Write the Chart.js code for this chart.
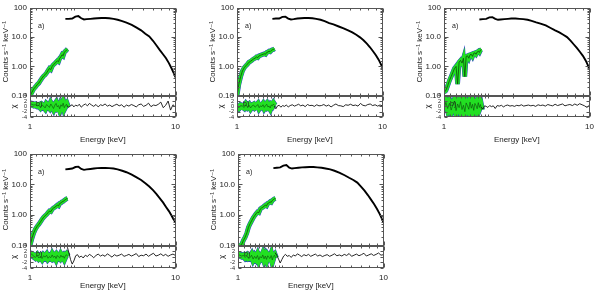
<!DOCTYPE html>
<html>
<head>
<meta charset="utf-8">
<script src="https://cdn.jsdelivr.net/npm/chart.js@4.4.1/dist/chart.umd.min.js"></script>
<style>
  html, body { margin: 0; padding: 0; background: #fff; }
  #wrap { position: relative; width: 600px; height: 292px; overflow: hidden; }
  canvas { position: absolute; }
</style>
</head>
<body>
<div id="wrap"></div>
<script>
// energy grids (keV)
const E_SOFT = [1.00, 1.03, 1.06, 1.09, 1.12, 1.15, 1.18, 1.21, 1.24, 1.27, 1.30, 1.33, 1.36, 1.39,
  1.42, 1.45, 1.48, 1.51, 1.54, 1.57, 1.60, 1.63, 1.66, 1.69, 1.72, 1.75, 1.78, 1.81];
const E_HARD = [1.75, 1.85, 1.95, 2.05, 2.15, 2.25, 2.35, 2.45, 2.6, 2.75, 2.9, 3.1, 3.3, 3.5, 3.75,
  4.0, 4.3, 4.6, 5.0, 5.4, 5.8, 6.2, 6.6, 7.0, 7.4, 7.8, 8.2, 8.6, 9.0, 9.4, 9.7, 10.0];
const E_RES = [1.80, 1.85, 1.90, 1.95, 2.00, 2.06, 2.12, 2.18, 2.25, 2.32, 2.40, 2.48, 2.56, 2.65,
  2.74, 2.84, 2.94, 3.05, 3.16, 3.28, 3.40, 3.53, 3.66, 3.80, 3.95, 4.10, 4.26, 4.43, 4.60, 4.78,
  4.97, 5.17, 5.37, 5.58, 5.80, 6.03, 6.27, 6.52, 6.78, 7.05, 7.33, 7.62, 7.92, 8.23, 8.55, 8.89,
  9.24, 9.60, 10.0];

// soft (green) spectra, counts s^-1 keV^-1
const SOFT_1 = [0.10, 0.13, 0.17, 0.20, 0.24, 0.27, 0.33, 0.40, 0.47, 0.52, 0.60, 0.72, 0.85, 0.78,
  1.0, 1.15, 1.25, 1.4, 1.55, 1.45, 1.9, 2.1, 2.5, 2.3, 3.0, 3.3, 3.6, 3.9];
const SOFT_2 = [0.10, 0.25, 0.45, 0.70, 0.90, 1.05, 1.2, 1.4, 1.5, 1.65, 1.8, 1.9, 2.1, 2.0,
  2.3, 2.4, 2.5, 2.6, 2.7, 2.6, 3.0, 3.1, 3.3, 3.2, 3.5, 3.7, 3.8, 4.0];
const SOFT_3 = [0.13, 0.15, 0.22, 0.33, 0.45, 0.62, 0.85, 1.0, 0.25, 1.4, 1.6, 1.3, 1.9, 0.45,
  2.2, 2.3, 1.9, 2.5, 2.6, 2.2, 2.8, 2.9, 2.6, 3.1, 3.3, 3.0, 3.6, 3.8];
const SOFT_4 = [0.10, 0.17, 0.26, 0.35, 0.43, 0.50, 0.60, 0.72, 0.85, 0.95, 1.05, 1.2, 1.35, 1.3,
  1.55, 1.7, 1.8, 1.95, 2.1, 2.0, 2.4, 2.5, 2.7, 2.8, 3.0, 3.2, 3.4, 3.5];
const SOFT_5 = [0.10, 0.10, 0.11, 0.15, 0.19, 0.26, 0.40, 0.52, 0.65, 0.80, 0.95, 1.1, 1.25, 1.2,
  1.55, 1.7, 1.8, 1.95, 2.1, 2.0, 2.4, 2.5, 2.7, 2.6, 3.0, 3.2, 3.4, 3.5];

// hard (black) spectra
const HARD_1 = [42, 42, 43, 50, 52, 44, 40, 41, 42, 43, 44, 45, 45, 44, 42, 39, 35, 31, 26, 21, 17,
  13, 10.5, 7.5, 5.2, 3.6, 2.6, 1.9, 1.3, 0.85, 0.6, 0.42];
const HARD_2 = [42, 43, 43, 49, 50, 43, 40, 41, 43, 44, 45, 45, 44, 42, 39, 35, 30, 27, 23, 20, 17,
  14.5, 12, 9.8, 7.8, 6.0, 4.5, 3.3, 2.4, 1.7, 1.25, 0.9];
const HARD_3 = [40, 41, 42, 47, 48, 42, 39, 40, 41, 42, 43, 43, 42, 41, 39, 36, 32, 29, 25, 20.5, 17,
  14.5, 12, 10, 7.6, 5.6, 4.2, 3.1, 2.3, 1.6, 1.15, 0.78];
const HARD_4 = [31, 32, 33, 37, 38, 32, 30, 31, 32, 33, 34, 34.5, 34.5, 34, 33, 31, 28, 25, 21, 17, 14,
  11, 8.6, 6.5, 4.8, 3.5, 2.6, 1.85, 1.35, 0.95, 0.72, 0.57];
const HARD_5 = [34, 35, 36, 41, 43, 35, 33, 34, 35, 36, 36.5, 37, 37, 36, 35, 33, 31, 28, 24, 20, 16.5,
  14, 11.5, 8.5, 6.3, 4.5, 3.2, 2.3, 1.6, 1.1, 0.8, 0.57];

// residuals (chi)
const SOFT_RES_1 = [1.0, 0.8, 0.5, 0.6, 0.2, 0.4, -0.3, 0.5, 0.1, -0.6, 0.7, 0.2, -0.4, 0.9, 0.1, -0.8,
  0.4, 1.1, -0.2, 0.3, -0.9, 0.6, 0.0, 1.2, -0.5, 0.3, 0.8, -0.3];
const SOFT_RES_2 = [0.2, -0.5, 0.3, 0.1, -0.4, 0.6, -0.2, 0.4, -0.6, 0.2, 0.5, -0.3, 0.1, 0.7, -0.5, 0.2,
  -0.1, 0.6, -0.4, 0.3, 0.8, -0.2, 0.1, -0.6, 0.5, 0.2, 0.9, 0.3];
const SOFT_RES_3 = [-1.0, 1.5, -0.8, 1.2, -1.4, 0.6, 2.0, -1.6, 0.9, -0.5, 1.8, -1.2, 0.4, -2.0, 1.3, 0.2,
  -1.1, 1.6, -0.7, 0.8, -1.5, 1.1, 0.3, -0.9, 1.4, -0.4, 0.7, -1.3];
const SOFT_RES_4 = [1.2, 0.9, 0.3, -0.2, 0.5, -0.4, 0.2, -0.6, 0.4, -0.1, 0.6, -0.5, 0.1, -0.3, 0.7, -0.2,
  0.3, -0.6, 0.5, 0.0, -0.4, 0.6, -0.1, 0.3, -0.5, 0.4, 0.8, 0.2];
const SOFT_RES_5 = [0.8, 0.6, 0.3, 0.5, -0.2, 0.4, -0.5, -0.3, 0.6, -0.8, 0.2, -0.6, 0.5, -1.0, 0.1, -0.4,
  0.7, -0.7, 0.3, -0.9, 0.4, -0.2, -0.6, 0.5, -1.1, 0.2, 0.6, -0.4];

const HARD_RES_1 = [0.2, -0.4, 0.3, 0.6, -0.2, 0.5, 0.1, 0.8, -0.3, 0.4, 0.9, 0.2, 1.1, 0.5, 0.0, 0.7,
  -0.2, 0.6, 0.3, 0.9, 0.1, 0.5, -0.1, 0.4, 0.8, 0.2, 0.6, -0.3, 0.5, 0.1, 0.7, 0.3, -0.2, 0.6, 0.9,
  0.0, 0.4, 1.2, -0.1, 0.5, 0.3, 0.8, 1.6, -0.5, 0.4, 2.0, -1.4, 0.6, -0.3];
const HARD_RES_2 = [0.1, -0.9, 0.2, 0.4, -0.3, 0.3, 0.0, 0.5, -0.2, 0.3, 0.6, 0.1, 0.4, 0.8, 0.2, 0.5,
  -0.1, 0.7, 0.3, 0.4, 0.0, 0.6, 0.2, 0.3, 0.7, 0.1, 0.5, -0.2, 0.4, 0.9, 0.3, 0.2, -0.1, 0.6, 0.4,
  0.8, 0.3, 0.5, 0.1, 1.1, 0.4, 0.2, 0.7, 0.9, 0.3, 0.6, 0.1, 0.5, 0.2];
const HARD_RES_3 = [-0.3, -1.0, 0.2, 0.0, -0.4, 0.3, -0.1, 0.2, -0.8, 0.3, 0.1, 0.4, -0.2, 0.3, 0.5, 0.1,
  0.3, 0.0, 0.4, 0.2, 0.6, 0.1, 0.3, 0.5, 0.2, 0.4, 0.0, 0.6, 0.3, 0.5, 0.1, 0.7, 0.4, 0.2, 0.8, 0.3,
  0.6, 0.9, 0.2, 0.5, 0.7, 0.3, 0.9, 0.4, 1.0, 0.6, 0.2, -0.4, 0.5];
const HARD_RES_4 = [3.8, 1.5, -1.0, -2.6, -1.5, 0.4, 0.8, -0.2, 0.3, -0.4, 0.6, 0.1, 0.9, 0.4, -0.3, 0.5,
  1.0, 0.3, 0.7, 0.2, 1.1, 0.5, -0.1, 0.8, 0.3, 0.6, 1.0, 0.2, 0.5, 0.9, 0.3, 0.7, 1.2, 0.1, 0.6, 0.4,
  1.0, 0.2, 0.8, 1.3, 0.3, 0.6, 1.1, 0.4, 0.9, 0.2, 0.7, 1.0, 0.5];
const HARD_RES_5 = [1.5, 0.5, -0.8, -2.2, -1.0, 0.3, 0.9, 0.2, 0.5, -0.2, 0.7, 0.3, 1.1, 0.6, 0.1, 0.8,
  0.4, 0.9, 0.2, 0.6, 1.0, 0.3, 0.7, 0.1, 0.5, 0.8, 0.2, 0.6, 1.1, 0.4, 0.7, 0.3, 0.9, 0.5, 1.2, 0.2,
  0.6, 1.0, 0.4, 0.8, 1.3, 0.3, 0.7, 1.1, 0.5, 0.9, 1.4, 0.6, 0.8];

// tick labels
const Y_TICKS = [0.1, 1, 10, 100];
const Y_TICK_LABELS = ['0.10', '1.00', '10.0', '100'];
const X_TICKS = [1, 10];
const X_TICK_LABELS = ['1', '10'];
const RES_TICKS = [-4, -2, 0, 2, 4];

const PANELS = [
  { soft: SOFT_1, hard: HARD_1, softRes: SOFT_RES_1, hardRes: HARD_RES_1, left: 0, top: 0, row: 0 },
  { soft: SOFT_2, hard: HARD_2, softRes: SOFT_RES_2, hardRes: HARD_RES_2, left: 207, top: 0, row: 0 },
  { soft: SOFT_3, hard: HARD_3, softRes: SOFT_RES_3, hardRes: HARD_RES_3, left: 414, top: 0, row: 0 },
  { soft: SOFT_4, hard: HARD_4, softRes: SOFT_RES_4, hardRes: HARD_RES_4, left: 0, top: 146, row: 1 },
  { soft: SOFT_5, hard: HARD_5, softRes: SOFT_RES_5, hardRes: HARD_RES_5, left: 208, top: 146, row: 1 },
];
// per-row geometry: spectrum / residual heights and x-axis band height
const ROWS = [
  { specH: 91, resH: 22, axisH: 29 },
  { specH: 95, resH: 23, axisH: 24 },
];

const GREEN = '#22e022', BLUE = '#2a3bd0', DARK = '#0b4a0b', FRAME = '#555';
Chart.defaults.font.family = "'Liberation Sans', 'DejaVu Sans', sans-serif";
Chart.defaults.font.size = 8;
Chart.defaults.color = '#222';

const pts = (xs, ys) => xs.map((x, i) => ({ x, y: ys[i] }));

const frame = {
  id: 'frame',
  afterDraw(chart) {
    const { ctx, scales: { x, y, yres } } = chart;
    const seg = (x1, y1, x2, y2) => { ctx.beginPath(); ctx.moveTo(x1, y1); ctx.lineTo(x2, y2); ctx.stroke(); };
    ctx.save();
    ctx.strokeStyle = FRAME;
    ctx.lineWidth = 1;
    [y, yres].forEach((s) => {
      const t = Math.round(s.top) + 0.5, b = Math.round(s.bottom) - 0.5;
      const l = Math.round(x.left) + 0.5, rt = Math.round(x.right) - 0.5;
      ctx.strokeRect(l, t, rt - l, b - t);
      x.ticks.forEach((tk) => {
        const px = Math.round(x.getPixelForValue(tk.value)) + 0.5;
        const len = tk.major ? 4 : 2;
        seg(px, b, px, b - len);
        seg(px, t, px, t + len);
      });
      s.ticks.forEach((tk) => {
        const py = Math.round(s.getPixelForValue(tk.value)) + 0.5;
        const len = s === yres ? 3 : (tk.major ? 4 : 2);
        seg(l, py, l + len, py);
        seg(rt, py, rt - len, py);
      });
    });
    ctx.fillStyle = '#222';
    ctx.font = "7px 'Liberation Sans', sans-serif";
    ctx.textBaseline = 'middle';
    ctx.fillText('a)', x.left + 8, y.top + 18);
    ctx.fillText('b)', x.left + 6, yres.top + 8);
    ctx.restore();
  },
};

PANELS.forEach((p) => {
  const g = ROWS[p.row];
  const cv = document.createElement('canvas');
  cv.width = 185; cv.height = 146;
  cv.style.left = p.left + 'px'; cv.style.top = p.top + 'px';
  document.getElementById('wrap').appendChild(cv);

  const line = (data, yAxisID, color, width) => ({
    data, yAxisID, borderColor: color, borderWidth: width, pointRadius: 0, tension: 0, fill: false,
  });

  // first dataset is drawn on top
  new Chart(cv, {
    type: 'line',
    data: {
      datasets: [
        line(pts(E_HARD, p.hard), 'y', '#000', 1.9),
        line(pts(E_RES, p.hardRes), 'yres', '#111', 0.9),
        line(pts(E_SOFT, p.soft), 'y', DARK, 0.8),
        line(pts(E_SOFT, p.softRes), 'yres', DARK, 0.6),
        line(pts(E_SOFT, p.soft), 'y', GREEN, 4),
        line(pts(E_SOFT, p.softRes), 'yres', GREEN, 6),
        line(pts(E_SOFT, p.soft), 'y', BLUE, 4.8),
        line(pts(E_SOFT, p.softRes), 'yres', BLUE, 6.8),
      ],
    },
    options: {
      responsive: false,
      animation: false,
      events: [],
      layout: { padding: { top: 4, right: 6, left: 0, bottom: 0 } },
      plugins: { legend: { display: false }, tooltip: { enabled: false } },
      scales: {
        x: {
          type: 'logarithmic', min: 1, max: 10,
          border: { display: false },
          grid: { display: false, drawTicks: false },
          afterFit: (s) => { s.height = g.axisH; },
          ticks: {
            autoSkip: false, maxRotation: 0, padding: 5,
            callback: (v) => { const k = X_TICKS.indexOf(v); return k >= 0 ? X_TICK_LABELS[k] : ''; },
          },
          title: { display: true, text: 'Energy [keV]', padding: { top: 0, bottom: 1 } },
        },
        y: {
          type: 'logarithmic', min: 0.1, max: 100, position: 'left', stack: 'v', stackWeight: g.specH,
          weight: 2,
          border: { display: false },
          grid: { display: false, drawTicks: false },
          afterFit: (s) => { s.width = 30; },
          ticks: {
            autoSkip: false, padding: 3,
            callback: (v) => {
              const k = Y_TICKS.findIndex((t) => Math.abs(t - v) < 1e-9);
              return k >= 0 ? Y_TICK_LABELS[k] : '';
            },
          },
          title: { display: true, text: 'Counts s\u207B\u00B9 keV\u207B\u00B9', padding: { top: 1, bottom: 0 } },
        },
        yres: {
          axis: 'y', type: 'linear', min: -4, max: 4, position: 'left', stack: 'v', stackWeight: g.resH,
          weight: 1,
          border: { display: false },
          grid: { display: false, drawTicks: false },
          afterFit: (s) => { s.width = 30; },
          afterBuildTicks: (s) => { s.ticks = RES_TICKS.map((v) => ({ value: v })); },
          ticks: { autoSkip: false, padding: 3, font: { size: 5.5 } },
          title: { display: true, text: '\u03C7', padding: { top: 9, bottom: 0 } },
        },
      },
    },
    plugins: [frame],
  });
});
</script>
</body>
</html>
